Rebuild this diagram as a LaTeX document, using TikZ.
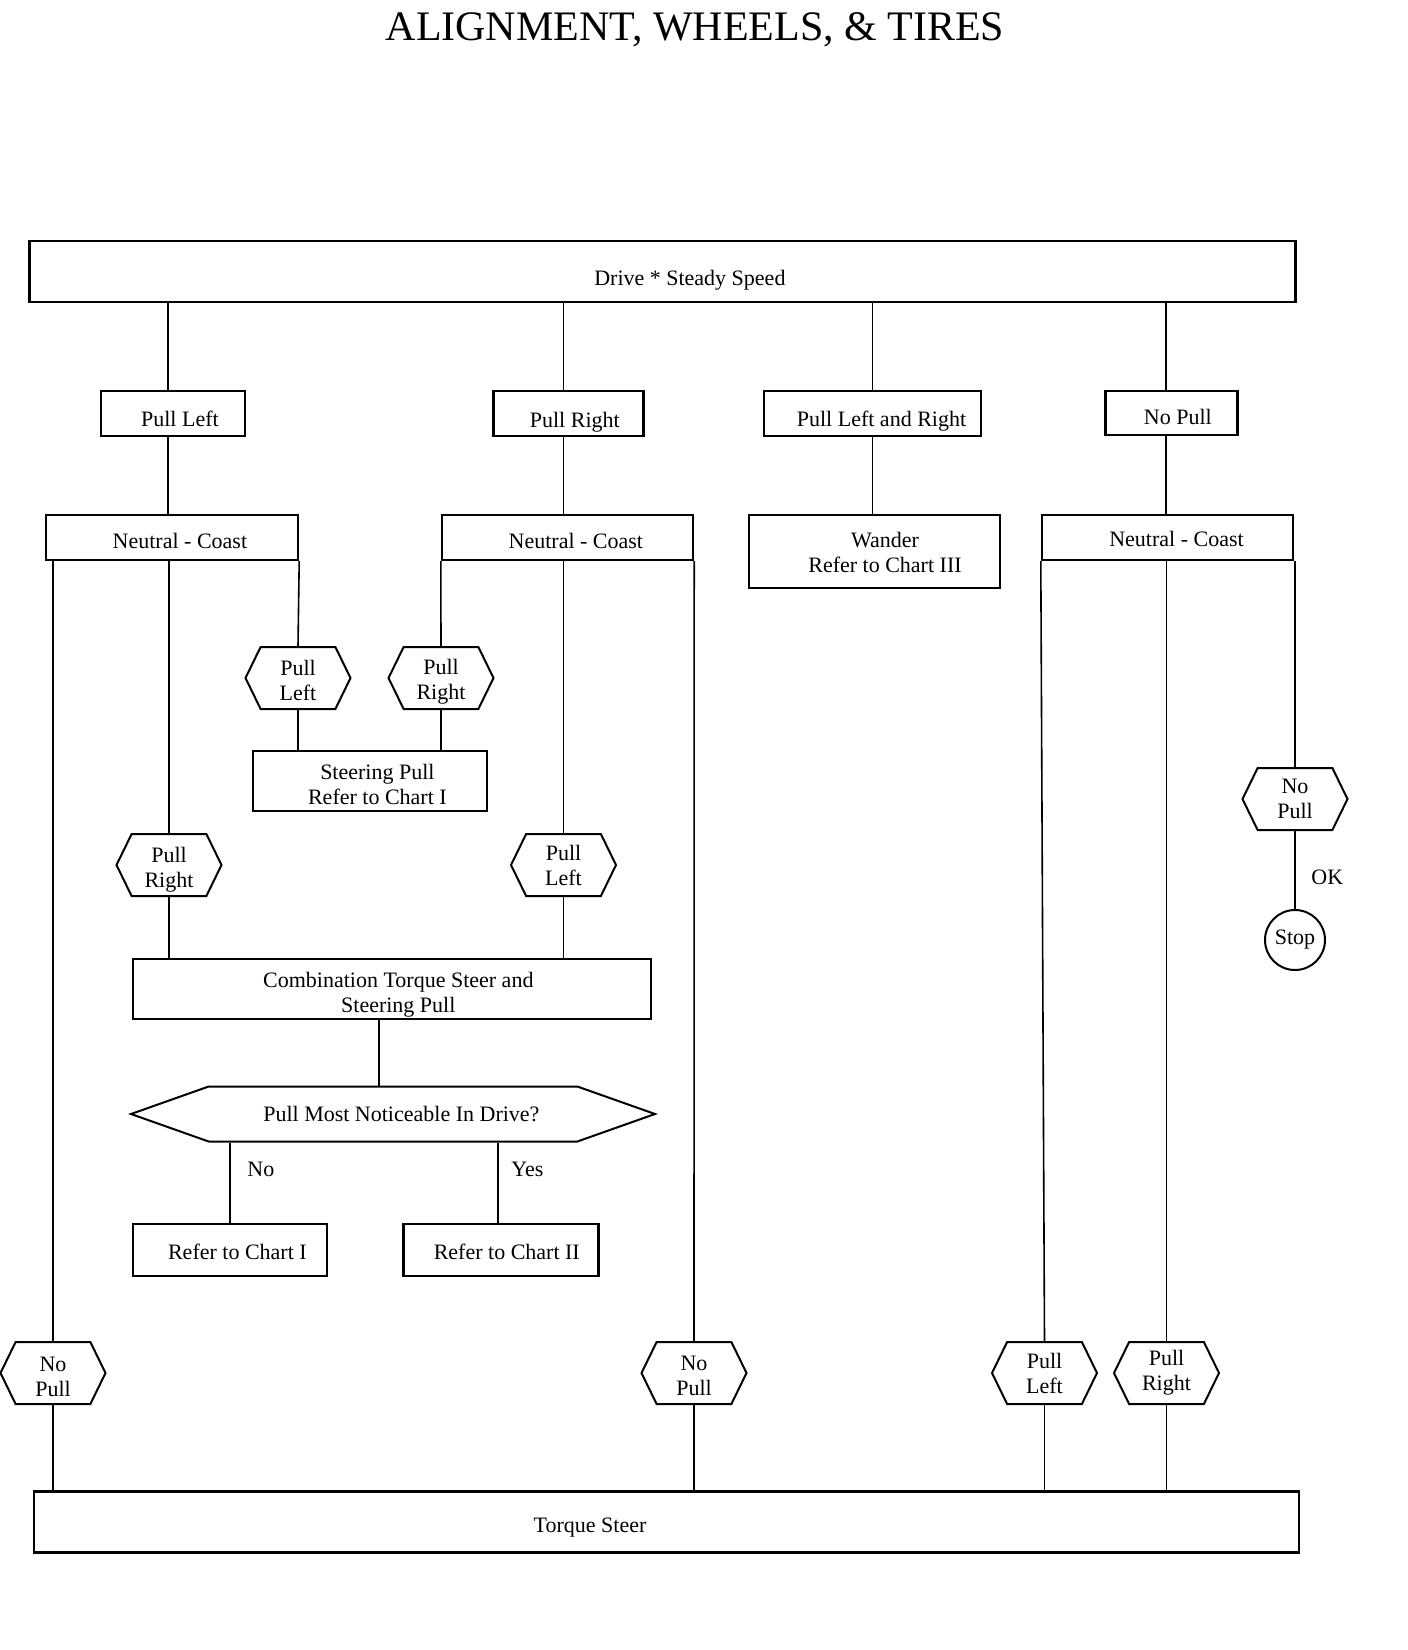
\documentclass[tikz,border=0pt]{standalone}
\usepackage{fontspec}
\setmainfont{Liberation Serif}
\usetikzlibrary{positioning, shapes.symbols}

\newcommand{\chartfont}{\fontsize{11pt}{12.5pt}\selectfont}

\tikzset{
	box/.style={draw, line width=1.2pt, align=center, inner sep=2pt, font=\chartfont},
	hexa/.style={draw, line width=1pt, signal, signal to=east and west, signal pointer angle=128,
		minimum width=52.5pt, minimum height=31pt, inner sep=1pt, align=center, font=\chartfont},
	choice/.style={hexa, signal pointer angle=39, minimum width=262pt, minimum height=27.5pt},
	link/.style={right, font=\chartfont}
}

\begin{document}
\begin{tikzpicture}[x=0.5pt, y=-0.5pt]
	\useasboundingbox (0,0) rectangle (1408,1650);

	\node (title) [anchor=base, font=\fontsize{21pt}{25pt}\selectfont] at (695,40) {ALIGNMENT, WHEELS, \& TIRES};

	\node (drive) [box, minimum width=633pt, minimum height=30.5pt, text height=16pt] at (662.5,271.5) {\hspace*{27.4pt}Drive * Steady Speed};

	\node (pl) [box, minimum width=72pt, minimum height=22.5pt, text height=12.8pt] at (173,413.5) {\hspace*{6.9pt}Pull Left};
	\node (pr) [box, minimum width=75pt, minimum height=22.5pt, text height=16pt] at (568.5,413.5) {\hspace*{6.3pt}Pull Right};
	\node (plr) [box, minimum width=108.5pt, minimum height=22.5pt, text height=15pt] at (872.5,413.5) {\hspace*{9pt}Pull Left and Right};
	\node (np) [box, minimum width=66pt, minimum height=22pt, text height=11.7pt] at (1171.5,413) {\hspace*{6.3pt}No Pull};

	\node (nc1) [box, minimum width=126pt, minimum height=22.5pt, text height=10.7pt] at (172,537.5) {\hspace*{7.9pt}Neutral - Coast};
	\node (nc2) [box, minimum width=125.5pt, minimum height=22.5pt, text height=10.7pt] at (567.5,537.5) {\hspace*{8.4pt}Neutral - Coast};
	\node (wander) [box, minimum width=125.5pt, minimum height=36.5pt, text height=21.5pt] at (874.5,551.5) {\hspace*{10.5pt}Wander\\\hspace*{10.5pt}Refer to Chart III};
	\node (nc3) [box, minimum width=125.5pt, minimum height=22.5pt, text height=9.5pt] at (1167.5,537.5) {\hspace*{9pt}Neutral - Coast};

	\node (hexpl) [hexa, text height=23pt] at (298,678) {Pull\\Left};
	\node (hexpr) [hexa, text height=23.5pt] at (441,678) {Pull\\Right};
	\node (steer) [box, minimum width=117pt, minimum height=30pt, text height=24pt] at (370,781) {\hspace*{7.4pt}Steering Pull\\\hspace*{7.4pt}Refer to Chart I};

	\node (hexr1) [hexa, text height=24.5pt] at (169,865) {Pull\\Right};
	\node (hexl2) [hexa] at (563.5,865) {Pull\\Left};
	\node (combo) [box, minimum width=259pt, minimum height=30pt, inner ysep=0pt, text height=26pt] at (392,989) {\hspace*{6.3pt}Combination Torque Steer and\\\hspace*{6.3pt}Steering Pull};

	\node (dec) [choice] at (393,1114) {\hspace*{8.4pt}Pull Most Noticeable In Drive?};
	\node (ref1) [box, minimum width=97pt, minimum height=26pt, text height=10pt] at (230,1250) {\hspace*{7.4pt}Refer to Chart I};
	\node (ref2) [box, minimum width=97.5pt, minimum height=26pt, text height=10pt] at (501,1250) {\hspace*{5.8pt}Refer to Chart II};

	\node (npa) [hexa, text height=23.5pt] at (53,1373) {No\\Pull};
	\node (npb) [hexa, text height=23pt] at (694,1373) {No\\Pull};
	\node (npc) [hexa] at (1044.5,1373) {Pull\\Left};
	\node (npd) [hexa] at (1166.5,1373) {Pull\\Right};

	\node (hexnp) [hexa] at (1295,799) {No\\Pull};
	\node (stop) [draw, circle, line width=1pt, minimum size=30pt, inner sep=0pt, font=\chartfont] at (1295,940) {Stop};

	\node (ts) [box, minimum width=632.5pt, minimum height=30.5pt, text height=12.8pt] at (666.5,1522) {Torque Steer\hspace*{76.5pt}};

	\path [line width=0.8pt]
		(drive.south -| pl.north) ++(-2.5pt,0) edge ([xshift=-2.5pt]pl.north)
		(drive.south -| pr.north) ++(-2.6pt,0) edge ([xshift=-2.6pt]pr.north)
		(drive.south -| plr.north) edge (plr.north)
		(drive.south -| np.north) ++(-2.8pt,0) edge ([xshift=-2.8pt]np.north)
		([xshift=-2.5pt]pl.south) edge ([xshift=-2.5pt]pl.south |- nc1.north)
		([xshift=-2.6pt]pr.south) edge ([xshift=-2.6pt]pr.south |- nc2.north)
		(plr.south) edge (plr.south |- wander.north)
		([xshift=-2.8pt]np.south) edge ([xshift=-2.8pt]np.south |- nc3.north)
		(nc1.south east) edge (hexpl.north)
		(nc2.south west) edge (hexpr.north)
		(hexpl.south) edge (hexpl.south |- steer.north)
		(hexpr.south) edge (hexpr.south |- steer.north)
		(hexr1.north |- nc1.south) edge (hexr1.north)
		(hexl2.north |- nc2.south) edge (hexl2.north)
		(hexr1.south) edge (hexr1.south |- combo.north)
		(hexl2.south) edge (hexl2.south |- combo.north)
		([xshift=-6.5pt]combo.south) edge ([xshift=-6.5pt]combo.south |- dec.north)
		(ref1.north |- dec.south) edge node [link, pos=0.34, xshift=5pt] {No} (ref1.north)
		([xshift=-1.5pt]ref2.north |- dec.south) edge node [link, pos=0.34, xshift=3pt] {Yes} ([xshift=-1.5pt]ref2.north)
		(npa.north |- nc1.south) edge (npa.north)
		(npa.south) edge (npa.south |- ts.north)
		(nc2.south east) edge (npb.north)
		(npb.south) edge (npb.south |- ts.north)
		(nc3.south west) edge (npc.north)
		(npc.south) edge (npc.south |- ts.north)
		(npd.north |- nc3.south) edge (npd.north)
		(npd.south) edge (npd.south |- ts.north)
		(hexnp.north |- nc3.south) edge (hexnp.north)
		(hexnp.south) edge node [link, pos=0.59, xshift=4.5pt] {OK} (stop.north);

\end{tikzpicture}
\end{document}
